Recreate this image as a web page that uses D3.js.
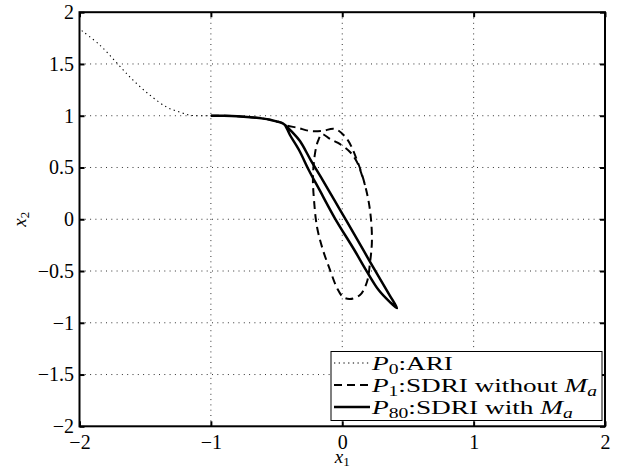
<!DOCTYPE html>
<html><head><meta charset="utf-8">
<script src="https://cdn.jsdelivr.net/npm/d3@7"></script>
<style>
body{margin:0;background:#fff}
svg{display:block}
text{font-family:"Liberation Serif","Times New Roman",serif;fill:#000}
</style></head><body>
<script>
// ---- data ----
const xTicks = [-2, -1, 0, 1, 2];
const yTicks = [-2, -1.5, -1, -0.5, 0, 0.5, 1, 1.5, 2];

// common part shared by the trajectories (from x1=-1 to the branching point)
const commonX = [-1.0, -0.9, -0.8, -0.7, -0.6, -0.55, -0.5, -0.46, -0.436];
const commonY = [1.0, 0.999, 0.995, 0.986, 0.972, 0.961, 0.945, 0.93, 0.911];

// P0: ARI (dotted)
const p0X = [-1.983, -1.844, -1.714, -1.592, -1.463, -1.334, -1.235, -1.159, -1.08];
const p0Y = [1.822, 1.681, 1.507, 1.343, 1.198, 1.082, 1.034, 1.005, 1.0];

// P1: SDRI without Ma (dashed)
const p1X = [-0.337, -0.246, -0.154, -0.055, 0.036, 0.112, 0.173, 0.211, 0.226, 0.211, 0.188, 0.135, 0.059, 0.006, -0.040, -0.093, -0.147, -0.192, -0.215, -0.223, -0.207, -0.185, -0.154, -0.093, -0.032, 0.059, 0.112, 0.173];
const p1Y = [0.882, 0.853, 0.853, 0.872, 0.775, 0.572, 0.331, 0.089, -0.200, -0.423, -0.606, -0.732, -0.770, -0.751, -0.664, -0.490, -0.297, -0.075, 0.186, 0.408, 0.638, 0.754, 0.821, 0.775, 0.737, 0.650, 0.553, 0.331];

// P80: SDRI with Ma (solid)
const p80X = [-0.382, -0.322, -0.238, -0.149, -0.061, 0.028, 0.116, 0.204, 0.293, 0.360, 0.417,
              0.363, 0.277, 0.181, 0.092, -0.057, -0.173, -0.255, -0.329, -0.398, -0.420, -0.436];
const p80Y = [0.843, 0.756, 0.567, 0.379, 0.186, -0.007, -0.200, -0.394, -0.587, -0.732, -0.858,
              -0.800, -0.684, -0.491, -0.297, 0.012, 0.283, 0.476, 0.669, 0.814, 0.872, 0.911];

const legendLabels = [
  [{t:"P",it:true},{t:"0",sub:true},{t:":ARI"}],
  [{t:"P",it:true},{t:"1",sub:true},{t:":SDRI without "},{t:"M",it:true},{t:"a",sub:true,it:true}],
  [{t:"P",it:true},{t:"80",sub:true},{t:":SDRI with "},{t:"M",it:true},{t:"a",sub:true,it:true}]
];

// ---- chart ----
const W = 619, H = 469;
const svg = d3.select("body").append("svg").attr("width", W).attr("height", H);
svg.append("rect").attr("width", W).attr("height", H).attr("fill", "#fff");

const x = d3.scaleLinear().domain([-2, 2]).range([79.5, 605]);
const y = d3.scaleLinear().domain([-2, 2]).range([426.3, 12.2]);
const fmt = d3.format("~g");

// grid
const grid = svg.append("g").attr("stroke", "#333").attr("stroke-width", 1).attr("stroke-dasharray", "1,4.3");
grid.selectAll(".gx").data(xTicks.slice(1, -1)).join("line")
  .attr("x1", d => x(d)).attr("x2", d => x(d)).attr("y1", y(2)).attr("y2", y(-2));
grid.selectAll(".gy").data(yTicks.slice(1, -1)).join("line")
  .attr("y1", d => y(d)).attr("y2", d => y(d)).attr("x1", x(-2)).attr("x2", x(2));

// curves
const zip = (a, b) => a.map((v, i) => [v, b[i]]);
const line = d3.line().x(d => x(d[0])).y(d => y(d[1])).curve(d3.curveCatmullRom.alpha(0.5));
const common = zip(commonX, commonY);
const p0 = zip(p0X, p0Y).concat(common);
const p1 = common.concat(zip(p1X, p1Y));
const p80 = common.concat(zip(p80X, p80Y));

svg.append("path").attr("d", line(p0)).attr("fill", "none").attr("stroke", "#000")
  .attr("stroke-width", 1.1).attr("stroke-dasharray", "1.3,3.4");
svg.append("path").attr("d", line(p1)).attr("fill", "none").attr("stroke", "#000")
  .attr("stroke-width", 2).attr("stroke-dasharray", "8,5");
svg.append("path").attr("d", line(p80)).attr("fill", "none").attr("stroke", "#000")
  .attr("stroke-width", 2.5).attr("stroke-linejoin", "round");

// axes
function styleAxis(g, labels) {
  g.select(".domain").remove();
  g.selectAll(".tick line").attr("stroke", "#000").attr("stroke-width", 2);
  g.selectAll(".tick text").attr("font-size", 20).attr("font-family", "Liberation Serif");
  if (!labels) g.selectAll(".tick text").remove();
}
svg.append("g").attr("transform", `translate(0,${y(-2)})`)
  .call(d3.axisBottom(x).tickValues(xTicks).tickSize(-5).tickPadding(9).tickFormat(fmt))
  .call(g => styleAxis(g, true));
svg.append("g").attr("transform", `translate(0,${y(2)})`)
  .call(d3.axisTop(x).tickValues(xTicks).tickSize(-5))
  .call(g => styleAxis(g, false));
svg.append("g").attr("transform", `translate(${x(-2)},0)`)
  .call(d3.axisLeft(y).tickValues(yTicks).tickSize(-5).tickPadding(5.5).tickFormat(fmt))
  .call(g => styleAxis(g, true));
svg.append("g").attr("transform", `translate(${x(2)},0)`)
  .call(d3.axisRight(y).tickValues(yTicks).tickSize(-5))
  .call(g => styleAxis(g, false));

// frame
svg.append("rect").attr("x", x(-2)).attr("y", y(2)).attr("width", x(2) - x(-2)).attr("height", y(-2) - y(2))
  .attr("fill", "none").attr("stroke", "#000").attr("stroke-width", 2);

// axis labels
const xl = svg.append("text").attr("x", x(0)).attr("y", 463).attr("text-anchor", "middle").attr("font-size", 19);
xl.append("tspan").attr("font-style", "italic").text("x");
xl.append("tspan").attr("font-size", 13).attr("dy", 3).text("1");
const yl = svg.append("text").attr("transform", `translate(26,${y(0)}) rotate(-90)`).attr("text-anchor", "middle").attr("font-size", 19);
yl.append("tspan").attr("font-style", "italic").text("x");
yl.append("tspan").attr("font-size", 13).attr("dy", 3).text("2");

// legend
const lg = svg.append("g");
lg.append("rect").attr("x", 331).attr("y", 351.5).attr("width", 271).attr("height", 69)
  .attr("fill", "#fff").attr("stroke", "#000").attr("stroke-width", 1);
const styles = [
  {w: 1.1, da: "1.3,3.4", c: "#000"},
  {w: 2, da: "8,5", c: "#000"},
  {w: 2.5, da: null, c: "#000"}
];
const targetW = [81, 225, 201];
legendLabels.forEach((parts, i) => {
  const base = 369.5 + i * 22;
  lg.append("line").attr("x1", 334).attr("x2", 370).attr("y1", base - 6.5).attr("y2", base - 6.5)
    .attr("stroke", styles[i].c).attr("stroke-width", styles[i].w)
    .attr("stroke-dasharray", styles[i].da);
  const g = lg.append("g").attr("transform", `translate(372,${base})`);
  const t = g.append("text").attr("x", 0).attr("y", 0).attr("font-size", 19.5);
  let shifted = false;
  parts.forEach(p => {
    const ts = t.append("tspan").text(p.t);
    if (p.it) ts.attr("font-style", "italic");
    if (p.sub) { ts.attr("font-size", 14).attr("dy", 4); shifted = true; }
    else if (shifted) { ts.attr("dy", -4); shifted = false; }
  });
  const w = t.node().getComputedTextLength();
  g.attr("transform", `translate(372,${base}) scale(${targetW[i] / w},1)`);
});
</script>
</body></html>
